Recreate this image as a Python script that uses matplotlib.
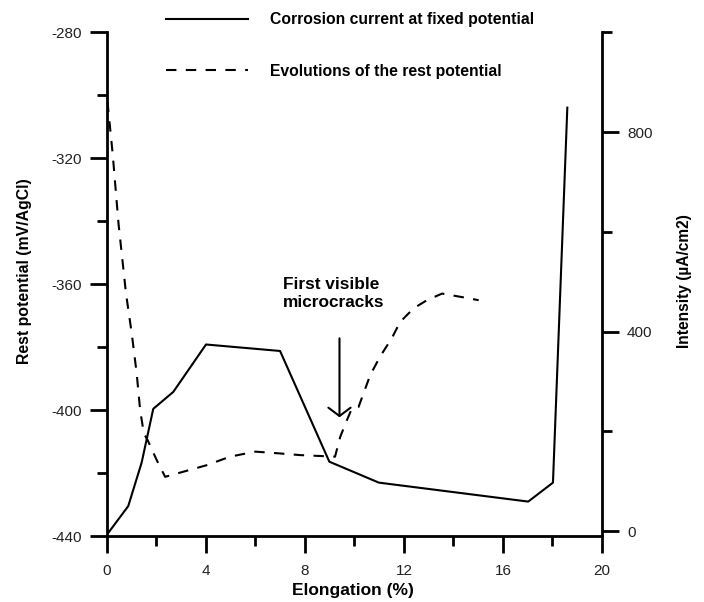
import matplotlib
matplotlib.use("Agg")
import matplotlib.pyplot as plt
from matplotlib.ticker import MultipleLocator, FixedLocator

plt.rcParams['font.family'] = ['Liberation Sans', 'DejaVu Sans']
plt.rcParams['axes.unicode_minus'] = False

# Corrosion current at fixed potential (right axis, µA/cm2)
current_x = [0.0, 0.87, 1.41, 1.88, 2.69, 4.01, 7.0, 8.99, 10.99, 17.02, 18.02, 18.6]
current_y = [-8, 50, 137, 245, 279, 374, 361, 139, 97, 59, 97, 849]

# Evolutions of the rest potential (left axis, mV/AgCl)
rest_x = [0.03, 0.24, 0.48, 0.78, 1.01, 1.21, 1.35, 1.50, 1.65, 2.02, 2.36, 4.04, 4.98,
          6.0, 6.87, 7.81, 9.22, 9.43, 9.70, 9.90, 10.17, 10.64, 11.04, 11.51, 11.85,
          12.39, 12.93, 13.54, 14.41, 15.02]
rest_y = [-302, -318.5, -341, -363, -375.6, -388.3, -400, -407.4, -409.5, -415.9, -421.2,
          -417.5, -414.8, -413.2, -413.7, -414.3, -414.8, -408.5, -403.2, -399.5, -399,
          -388.9, -383, -377.2, -372, -367.7, -365.1, -363, -364.2, -365.1]

x_ticks = [0, 4, 8, 12, 16, 20]
left_ticks = [-440, -400, -360, -320, -280]
right_ticks = [0, 400, 800]

label_current = "Corrosion current at fixed potential"
label_rest = "Evolutions of the rest potential"
annot_text = "First visible\nmicrocracks"
annot_x = 9.4

W, H = 704, 602
fig = plt.figure(figsize=(W / 100, H / 100), dpi=100)
ax_l, ax_r, ax_b, ax_t = 106.7, 602.0, 536.0, 32.3
ax = fig.add_axes([ax_l / W, 1 - ax_b / H, (ax_r - ax_l) / W, (ax_b - ax_t) / H])
ax2 = ax.twinx()

lw = 1.5
dashed, = ax.plot(rest_x, rest_y, color='black', lw=lw, linestyle=(0, (5.0, 4.5)),
                  label=label_rest)
solid, = ax2.plot(current_x, current_y, color='black', lw=lw, label=label_current)

ax.set_xlim(0, 20)
ax.set_ylim(-440, -280)
ax2.set_ylim(-10, 1000)

for a in (ax, ax2):
    a.patch.set_visible(False)
    a.spines['top'].set_visible(False)
    for s in a.spines.values():
        s.set_linewidth(2.0)
ax2.spines['left'].set_visible(False)
ax2.spines['bottom'].set_visible(False)
ax.spines['right'].set_visible(False)

ax.xaxis.set_major_locator(FixedLocator(x_ticks))
ax.xaxis.set_minor_locator(MultipleLocator(2))
ax.yaxis.set_major_locator(FixedLocator(left_ticks))
ax.yaxis.set_minor_locator(MultipleLocator(20))
ax2.yaxis.set_major_locator(FixedLocator(right_ticks))
ax2.yaxis.set_minor_locator(MultipleLocator(200))

tick_fs = 11
ax.tick_params(axis='x', which='major', direction='out', length=12, width=2,
               pad=8, labelsize=tick_fs, colors='black', labelcolor='#222222')
ax.tick_params(axis='x', which='minor', direction='out', length=7, width=2)
ax.tick_params(axis='y', which='major', direction='out', length=12, width=2,
               pad=6, labelsize=tick_fs, labelcolor='#222222')
ax.tick_params(axis='y', which='minor', direction='out', length=7, width=2)
ax2.tick_params(axis='y', which='major', direction='out', length=12, width=2,
                pad=6, labelsize=tick_fs, labelcolor='#222222')
ax2.tick_params(axis='y', which='minor', direction='out', length=7, width=2)

ax.set_xlabel("Elongation (%)", fontsize=12.5, fontweight='bold', va='center')
ax.xaxis.set_label_coords((353 - ax_l) / (ax_r - ax_l), (ax_b - 590) / (ax_b - ax_t))
ax.set_ylabel("Rest potential (mV/AgCl)", fontsize=11.4, fontweight='bold', va='center')
ax.yaxis.set_label_coords((24 - ax_l) / (ax_r - ax_l), (ax_b - 271) / (ax_b - ax_t))
ax2.set_ylabel("Intensity (µA/cm2)", fontsize=11.2, fontweight='bold', va='center',
               rotation=90)
ax2.yaxis.set_label_coords((684 - ax_l) / (ax_r - ax_l), (ax_b - 281) / (ax_b - ax_t))

# annotation
ax.annotate('', xy=(annot_x, -402.3), xytext=(annot_x, -377.2),
            arrowprops=dict(arrowstyle='->,head_length=0.6,head_width=0.8',
                            lw=1.5, color='black', mutation_scale=10,
                            shrinkA=0, shrinkB=0))
ax.text(7.13, -357.6, annot_text, fontsize=12.4, fontweight='bold', ha='left',
        va='top', linespacing=1.32)

leg_fs = 11.3
fig.legend(handles=[solid, dashed], labels=[label_current, label_rest],
           loc='upper left', bbox_to_anchor=(166 / W, 1 - 12 / H),
           frameon=False, handlelength=5.2,
           handletextpad=1.4, labelspacing=2.35, borderpad=0,
           borderaxespad=0, prop={'weight': 'bold', 'size': leg_fs})

fig.savefig("out.png", dpi=100)
